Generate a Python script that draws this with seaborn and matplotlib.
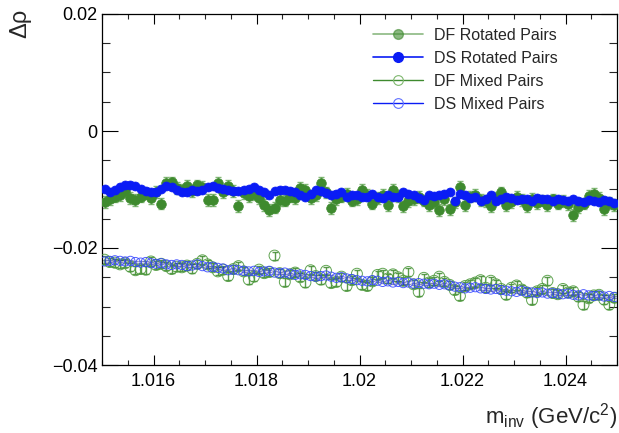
import numpy as np
import matplotlib
matplotlib.use("Agg")
import matplotlib.pyplot as plt
from matplotlib.lines import Line2D
from matplotlib.ticker import MultipleLocator, FixedLocator, FixedFormatter
import seaborn as sns

# invariant-mass bin centres (100 bins of 0.1 MeV between 1.015 and 1.025 GeV)
m_inv = [round(1.01505 + 0.0001 * i, 5) for i in range(100)]

df_rotated = [
    -0.0121, -0.0117, -0.0112, -0.0109, -0.0103, -0.0115, -0.0118, -0.0112, -0.0107, -0.0115,
    -0.0104, -0.0124, -0.0089, -0.0088, -0.0097, -0.0100, -0.0094, -0.0102, -0.0093, -0.0096,
    -0.0118, -0.0118, -0.0089, -0.0105, -0.0094, -0.0103, -0.0128, -0.0106, -0.0111, -0.0108,
    -0.0115, -0.0127, -0.0135, -0.0131, -0.0118, -0.0119, -0.0112, -0.0114, -0.0097, -0.0101,
    -0.0114, -0.0109, -0.0089, -0.0105, -0.0132, -0.0116, -0.0112, -0.0107, -0.0119, -0.0117,
    -0.0101, -0.0109, -0.0124, -0.0114, -0.0109, -0.0126, -0.0101, -0.0111, -0.0129, -0.0120,
    -0.0116, -0.0113, -0.0119, -0.0126, -0.0121, -0.0135, -0.0117, -0.0134, -0.0122, -0.0095,
    -0.0126, -0.0112, -0.0109, -0.0118, -0.0120, -0.0128, -0.0114, -0.0105, -0.0127, -0.0121,
    -0.0113, -0.0118, -0.0128, -0.0116, -0.0123, -0.0119, -0.0126, -0.0117, -0.0124, -0.0120,
    -0.0125, -0.0143, -0.0130, -0.0124, -0.0111, -0.0108, -0.0115, -0.0134, -0.0123, -0.0127,
]

ds_rotated = [
    -0.0099, -0.0104, -0.0101, -0.0095, -0.0093, -0.0092, -0.0094, -0.0099, -0.0102, -0.0105,
    -0.0104, -0.0099, -0.0094, -0.0096, -0.0101, -0.0104, -0.0105, -0.0101, -0.0103, -0.0101,
    -0.0096, -0.0094, -0.0097, -0.0099, -0.0101, -0.0102, -0.0103, -0.0101, -0.0099, -0.0096,
    -0.0101, -0.0105, -0.0109, -0.0103, -0.0100, -0.0101, -0.0102, -0.0105, -0.0109, -0.0113,
    -0.0108, -0.0101, -0.0102, -0.0106, -0.0109, -0.0107, -0.0105, -0.0113, -0.0110, -0.0109,
    -0.0113, -0.0112, -0.0107, -0.0113, -0.0114, -0.0110, -0.0112, -0.0113, -0.0105, -0.0107,
    -0.0110, -0.0115, -0.0118, -0.0110, -0.0111, -0.0110, -0.0108, -0.0104, -0.0119, -0.0108,
    -0.0110, -0.0115, -0.0112, -0.0119, -0.0116, -0.0110, -0.0119, -0.0116, -0.0112, -0.0115,
    -0.0118, -0.0117, -0.0116, -0.0120, -0.0115, -0.0117, -0.0117, -0.0120, -0.0116, -0.0118,
    -0.0120, -0.0117, -0.0119, -0.0121, -0.0118, -0.0119, -0.0121, -0.0118, -0.0120, -0.0123,
]

df_mixed = [
    -0.0220, -0.0224, -0.0225, -0.0228, -0.0226, -0.0232, -0.0238, -0.0236, -0.0237, -0.0223,
    -0.0229, -0.0227, -0.0231, -0.0236, -0.0232, -0.0233, -0.0230, -0.0235, -0.0227, -0.0221,
    -0.0228, -0.0233, -0.0240, -0.0237, -0.0248, -0.0236, -0.0231, -0.0240, -0.0254, -0.0249,
    -0.0237, -0.0243, -0.0241, -0.0213, -0.0243, -0.0258, -0.0245, -0.0242, -0.0250, -0.0259,
    -0.0238, -0.0248, -0.0254, -0.0239, -0.0260, -0.0258, -0.0249, -0.0265, -0.0255, -0.0244,
    -0.0263, -0.0265, -0.0257, -0.0246, -0.0244, -0.0252, -0.0245, -0.0250, -0.0256, -0.0241,
    -0.0262, -0.0275, -0.0251, -0.0259, -0.0256, -0.0249, -0.0258, -0.0263, -0.0272, -0.0282,
    -0.0265, -0.0262, -0.0259, -0.0255, -0.0268, -0.0256, -0.0262, -0.0270, -0.0280, -0.0268,
    -0.0264, -0.0271, -0.0276, -0.0289, -0.0274, -0.0270, -0.0256, -0.0277, -0.0279, -0.0270,
    -0.0276, -0.0274, -0.0283, -0.0297, -0.0286, -0.0281, -0.0280, -0.0288, -0.0297, -0.0285,
]

ds_mixed = [
    -0.0223, -0.0222, -0.0221, -0.0222, -0.0223, -0.0222, -0.0224, -0.0225, -0.0224, -0.0226,
    -0.0227, -0.0226, -0.0228, -0.0229, -0.0228, -0.0229, -0.0231, -0.0230, -0.0228, -0.0231,
    -0.0233, -0.0232, -0.0234, -0.0235, -0.0238, -0.0237, -0.0238, -0.0239, -0.0240, -0.0239,
    -0.0241, -0.0240, -0.0239, -0.0242, -0.0243, -0.0242, -0.0244, -0.0246, -0.0245, -0.0246,
    -0.0248, -0.0249, -0.0248, -0.0247, -0.0249, -0.0251, -0.0250, -0.0252, -0.0253, -0.0255,
    -0.0256, -0.0257, -0.0255, -0.0256, -0.0258, -0.0257, -0.0259, -0.0258, -0.0260, -0.0259,
    -0.0261, -0.0260, -0.0261, -0.0262, -0.0261, -0.0263, -0.0262, -0.0264, -0.0266, -0.0267,
    -0.0269, -0.0268, -0.0267, -0.0269, -0.0270, -0.0271, -0.0270, -0.0272, -0.0273, -0.0274,
    -0.0275, -0.0273, -0.0275, -0.0276, -0.0277, -0.0276, -0.0278, -0.0277, -0.0278, -0.0279,
    -0.0278, -0.0280, -0.0281, -0.0279, -0.0281, -0.0282, -0.0281, -0.0283, -0.0282, -0.0284,
]

# statistical uncertainty per bin for each sample
df_rotated_err = 0.0010
ds_rotated_err = 0.0004
df_mixed_err = 0.0007
ds_mixed_err = 0.0002

series_labels = ["DF Rotated Pairs", "DS Rotated Pairs", "DF Mixed Pairs", "DS Mixed Pairs"]
x_tick_values = [1.016, 1.018, 1.020, 1.022, 1.024]
x_tick_labels = ["1.016", "1.018", "1.02", "1.022", "1.024"]
y_tick_values = [-0.04, -0.02, 0.0, 0.02]
y_tick_labels = ["\u22120.04", "\u22120.02", "0", "0.02"]

sns.set_style("ticks")
plt.rcParams["font.family"] = ["Liberation Sans", "DejaVu Sans"]
plt.rcParams["mathtext.fontset"] = "custom"
plt.rcParams["mathtext.rm"] = "Liberation Sans"
plt.rcParams["mathtext.it"] = "Liberation Sans"

GREEN = "#3e8a2e"
GREEN_LIGHT = "#4f9a3e"
BLUE = "#0a1cf5"
BLUE_LIGHT = "#3344ff"

W, H = 619, 433
fig = plt.figure(figsize=(W / 100, H / 100), dpi=100)
ax = fig.add_axes([102 / W, 1 - 365 / H, (617 - 102) / W, (365 - 14) / H])

x = np.array(m_inv)


def draw(yvals, err, color, size, filled, ecolor, ealpha, lw, malpha=1.0):
    ax.errorbar(x, yvals, yerr=err, fmt="none", ecolor=ecolor, alpha=ealpha,
                elinewidth=1.0, capsize=2.0, capthick=1.0, zorder=2)
    sns.scatterplot(x=x, y=yvals, ax=ax, color=color, marker="o", s=size,
                    edgecolor=color, linewidth=lw, zorder=3, legend=False,
                    alpha=malpha)
    if not filled:
        ax.collections[-1].set_facecolor("none")


draw(df_mixed, df_mixed_err, GREEN_LIGHT, 62, False, GREEN, 0.85, 0.7, 0.9)
draw(ds_mixed, ds_mixed_err, BLUE_LIGHT, 44, False, "#203080", 0.5, 0.7, 0.85)
draw(df_rotated, df_rotated_err, GREEN, 48, True, GREEN_LIGHT, 0.7, 0.5)
draw(ds_rotated, ds_rotated_err, BLUE, 42, True, BLUE, 0.9, 0.5)

ax.set_xlim(1.015, 1.025)
ax.set_ylim(-0.04, 0.02)

ax.xaxis.set_major_locator(FixedLocator(x_tick_values))
ax.xaxis.set_major_formatter(FixedFormatter(x_tick_labels))
ax.xaxis.set_minor_locator(MultipleLocator(0.0005))
ax.yaxis.set_major_locator(FixedLocator(y_tick_values))
ax.yaxis.set_major_formatter(FixedFormatter(y_tick_labels))
ax.yaxis.set_minor_locator(MultipleLocator(0.005))

ax.tick_params(axis="x", which="major", direction="in", length=7.2, width=0.8,
               top=True, bottom=True, labelsize=13, pad=6, colors="black")
ax.tick_params(axis="x", which="minor", direction="in", length=3.6, width=0.8,
               top=True, bottom=True)
ax.tick_params(axis="y", which="major", direction="in", length=11.5, width=0.8,
               left=True, right=True, labelsize=13, pad=3, colors="black")
ax.tick_params(axis="y", which="minor", direction="in", length=5.8, width=0.8,
               left=True, right=True)
for sp in ax.spines.values():
    sp.set_visible(True)
    sp.set_linewidth(0.9)
    sp.set_color("black")

fig.text(20 / W, 1 - 9 / H, "\u0394\u03c1", rotation=90, ha="center", va="top",
         fontsize=17)
fig.text(617 / W, 1 - 424 / H, r"m$_{\mathrm{inv}}$ (GeV/c$^{2}$)",
         ha="right", va="baseline", fontsize=16)

handles = [
    Line2D([], [], color=GREEN, alpha=0.6, lw=1.2, marker="o", markersize=7,
           markerfacecolor=GREEN, markeredgecolor=GREEN),
    Line2D([], [], color=BLUE, lw=1.2, marker="o", markersize=7,
           markerfacecolor=BLUE, markeredgecolor=BLUE),
    Line2D([], [], color=GREEN, lw=1.0, marker="o", markersize=7,
           markerfacecolor="none", markeredgecolor="#7fb86f", markeredgewidth=0.8),
    Line2D([], [], color=BLUE, lw=1.0, marker="o", markersize=7,
           markerfacecolor="none", markeredgecolor="#6070ff", markeredgewidth=0.8),
]
fig.legend(handles, series_labels, loc="upper left",
           bbox_to_anchor=(373 / W, 1 - 28 / H), frameon=False, fontsize=11.5,
           handlelength=3.1, handletextpad=0.75, labelspacing=0.5, borderpad=0,
           borderaxespad=0)

fig.savefig("out.png", dpi=100)
